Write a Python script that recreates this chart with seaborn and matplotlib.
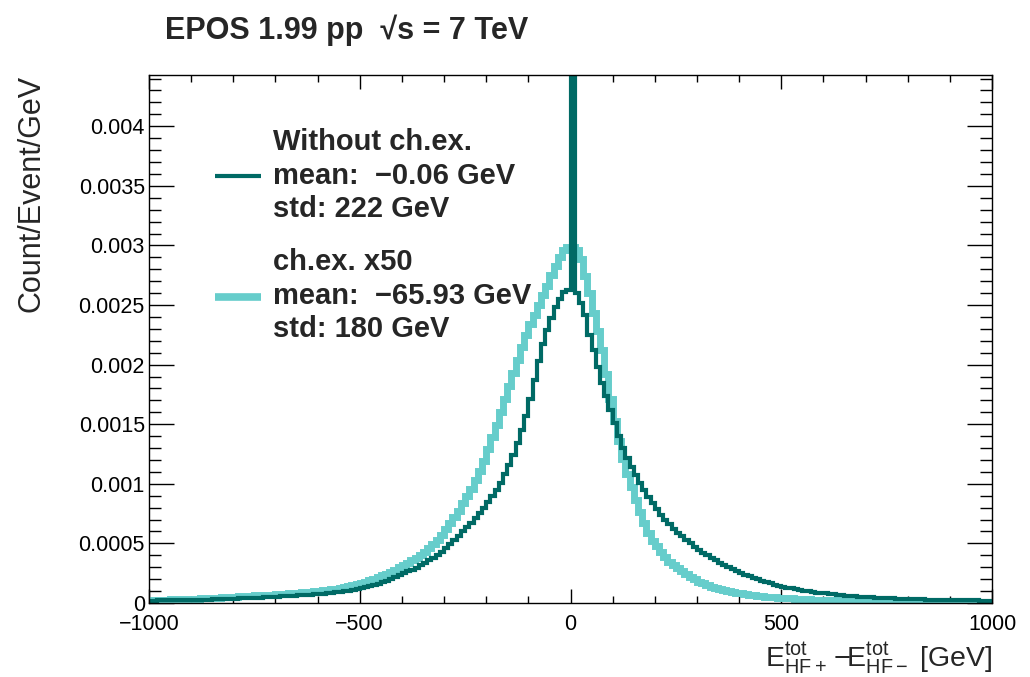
import numpy as np
import pandas as pd
import matplotlib
matplotlib.use("Agg")
import matplotlib.pyplot as plt
from matplotlib.lines import Line2D
from matplotlib.ticker import MultipleLocator, FixedLocator, FixedFormatter
import seaborn as sns

# ---------------- data ----------------
bin_low, bin_high, bin_width = -1000, 1000, 10

without_chex = [
    0.000020, 0.000020, 0.000021, 0.000021, 0.000022, 0.000022, 0.000023, 0.000024, 0.000024, 0.000025,
    0.000026, 0.000027, 0.000028, 0.000029, 0.000029, 0.000030, 0.000031, 0.000032, 0.000033, 0.000035,
    0.000036, 0.000038, 0.000039, 0.000041, 0.000042, 0.000044, 0.000046, 0.000048, 0.000050, 0.000052,
    0.000054, 0.000056, 0.000058, 0.000060, 0.000062, 0.000063, 0.000065, 0.000067, 0.000069, 0.000072,
    0.000075, 0.000078, 0.000081, 0.000085, 0.000089, 0.000094, 0.000099, 0.000104, 0.000110, 0.000117,
    0.000124, 0.000132, 0.000141, 0.000151, 0.000162, 0.000174, 0.000187, 0.000201, 0.000216, 0.000232,
    0.000249, 0.000265, 0.000280, 0.000297, 0.000316, 0.000336, 0.000357, 0.000380, 0.000404, 0.000430,
    0.000465, 0.000495, 0.000527, 0.000560, 0.000605, 0.000640, 0.000675, 0.000715, 0.000755, 0.000800,
    0.000845, 0.000895, 0.000950, 0.001010, 0.001080, 0.001160, 0.001245, 0.001340, 0.001450, 0.001570,
    0.001710, 0.001870, 0.002030, 0.002170, 0.002290, 0.002390, 0.002480, 0.002550, 0.002610, 0.002630,
    0.006000, 0.002600, 0.002520, 0.002420, 0.002250, 0.002120, 0.001980, 0.001850, 0.001740, 0.001620,
    0.001510, 0.001400, 0.001300, 0.001215, 0.001140, 0.001070, 0.001005, 0.000945, 0.000890, 0.000835,
    0.000785, 0.000740, 0.000700, 0.000660, 0.000625, 0.000590, 0.000560, 0.000530, 0.000500, 0.000473,
    0.000447, 0.000423, 0.000400, 0.000378, 0.000357, 0.000338, 0.000320, 0.000303, 0.000285, 0.000268,
    0.000252, 0.000238, 0.000224, 0.000211, 0.000199, 0.000187, 0.000176, 0.000165, 0.000155, 0.000146,
    0.000138, 0.000130, 0.000123, 0.000116, 0.000110, 0.000104, 0.000098, 0.000093, 0.000088, 0.000084,
    0.000080, 0.000076, 0.000072, 0.000068, 0.000065, 0.000062, 0.000059, 0.000056, 0.000054, 0.000051,
    0.000049, 0.000047, 0.000045, 0.000043, 0.000041, 0.000040, 0.000038, 0.000037, 0.000035, 0.000034,
    0.000033, 0.000032, 0.000031, 0.000030, 0.000029, 0.000028, 0.000027, 0.000026, 0.000025, 0.000024,
    0.000024, 0.000023, 0.000023, 0.000022, 0.000022, 0.000021, 0.000021, 0.000020, 0.000020, 0.000019,
]

chex_x50 = [
    0.000025, 0.000026, 0.000027, 0.000028, 0.000029, 0.000030, 0.000031, 0.000032, 0.000033, 0.000034,
    0.000036, 0.000037, 0.000039, 0.000040, 0.000042, 0.000043, 0.000045, 0.000047, 0.000049, 0.000051,
    0.000053, 0.000055, 0.000057, 0.000059, 0.000061, 0.000063, 0.000065, 0.000067, 0.000069, 0.000071,
    0.000073, 0.000076, 0.000078, 0.000081, 0.000083, 0.000086, 0.000089, 0.000092, 0.000095, 0.000099,
    0.000103, 0.000107, 0.000111, 0.000116, 0.000121, 0.000127, 0.000133, 0.000140, 0.000148, 0.000157,
    0.000167, 0.000178, 0.000190, 0.000204, 0.000218, 0.000232, 0.000247, 0.000263, 0.000280, 0.000298,
    0.000317, 0.000337, 0.000358, 0.000381, 0.000405, 0.000432, 0.000461, 0.000494, 0.000530, 0.000570,
    0.000620, 0.000670, 0.000720, 0.000775, 0.000835, 0.000895, 0.000960, 0.001030, 0.001110, 0.001195,
    0.001290, 0.001390, 0.001490, 0.001600, 0.001710, 0.001820, 0.001930, 0.002040, 0.002150, 0.002250,
    0.002340, 0.002420, 0.002500, 0.002580, 0.002660, 0.002750, 0.002830, 0.002900, 0.002960, 0.002990,
    0.002990, 0.002960, 0.002890, 0.002740, 0.002600, 0.002430, 0.002280, 0.002120, 0.001920, 0.001710,
    0.001530, 0.001360, 0.001210, 0.001080, 0.000970, 0.000860, 0.000760, 0.000670, 0.000590, 0.000520,
    0.000475, 0.000425, 0.000385, 0.000348, 0.000315, 0.000290, 0.000265, 0.000240, 0.000218, 0.000198,
    0.000180, 0.000164, 0.000150, 0.000138, 0.000128, 0.000119, 0.000110, 0.000102, 0.000095, 0.000088,
    0.000082, 0.000076, 0.000071, 0.000066, 0.000062, 0.000058, 0.000054, 0.000051, 0.000048, 0.000045,
    0.000042, 0.000040, 0.000038, 0.000036, 0.000034, 0.000032, 0.000030, 0.000028, 0.000027, 0.000025,
    0.000024, 0.000023, 0.000022, 0.000021, 0.000020, 0.000019, 0.000019, 0.000018, 0.000017, 0.000017,
    0.000016, 0.000016, 0.000015, 0.000015, 0.000014, 0.000014, 0.000014, 0.000013, 0.000013, 0.000013,
    0.000012, 0.000012, 0.000012, 0.000012, 0.000011, 0.000011, 0.000011, 0.000011, 0.000011, 0.000010,
    0.000010, 0.000010, 0.000010, 0.000010, 0.000010, 0.000010, 0.000010, 0.000010, 0.000010, 0.000010,
]

series_labels = [
    "Without ch.ex.\nmean:  \u22120.06 GeV\nstd: 222 GeV",
    "ch.ex. x50\nmean:  \u221265.93 GeV\nstd: 180 GeV",
]
title_text = "EPOS 1.99 pp  \u221as = 7 TeV"
y_label = "Count/Event/GeV"
x_label = r"$\mathregular{E^{tot}_{HF+}\,{-}\!E^{tot}_{HF-}}$ [GeV]"
x_ticks = [-1000, -500, 0, 500, 1000]
x_ticklabels = ["\u22121000", "\u2212500", "0", "500", "1000"]
y_ticks = [0, 0.0005, 0.001, 0.0015, 0.002, 0.0025, 0.003, 0.0035, 0.004]
y_ticklabels = ["0", "0.0005", "0.001", "0.0015", "0.002", "0.0025", "0.003", "0.0035", "0.004"]

# ---------------- style ----------------
sns.set_style("ticks")
plt.rcParams["font.family"] = ["Liberation Sans", "DejaVu Sans"]
plt.rcParams["mathtext.fontset"] = "custom"
plt.rcParams["mathtext.rm"] = "Liberation Sans"
plt.rcParams["mathtext.it"] = "Liberation Sans:italic"
plt.rcParams["mathtext.bf"] = "Liberation Sans:bold"

dark = "#006A65"
light = "#66CDCB"

edges = [float(e) for e in np.arange(bin_low, bin_high + bin_width, bin_width)]
centers = [(edges[i] + edges[i + 1]) / 2 for i in range(len(edges) - 1)]
df_dark = pd.DataFrame({"x": centers, "w": without_chex})
df_light = pd.DataFrame({"x": centers, "w": chex_x50})

fig = plt.figure(figsize=(10.30, 6.77), dpi=100)
ax = fig.add_axes([149 / 1030, 1 - 603 / 677, (992 - 149) / 1030, (603 - 75) / 677])

sns.histplot(data=df_light, x="x", weights="w", bins=edges,
             element="step", fill=False, color=light, linewidth=5.0,
             solid_joinstyle="miter", solid_capstyle="butt", ax=ax)
sns.histplot(data=df_dark, x="x", weights="w", bins=edges,
             element="step", fill=False, color=dark, linewidth=3.0,
             solid_joinstyle="miter", solid_capstyle="butt", ax=ax)

ax.set_xlim(-1000, 1000)
ax.set_ylim(0, 0.00443)

ax.xaxis.set_major_locator(FixedLocator(x_ticks))
ax.xaxis.set_major_formatter(FixedFormatter(x_ticklabels))
ax.xaxis.set_minor_locator(MultipleLocator(100))
ax.yaxis.set_major_locator(FixedLocator(y_ticks))
ax.yaxis.set_major_formatter(FixedFormatter(y_ticklabels))
ax.yaxis.set_minor_locator(MultipleLocator(0.0001))

ax.tick_params(axis="both", which="both", direction="in", top=True, right=True,
               colors="black", width=1.0)
ax.tick_params(axis="x", which="major", length=10, labelsize=15.5, pad=8)
ax.tick_params(axis="x", which="minor", length=5)
ax.tick_params(axis="y", which="major", length=18, labelsize=15.5, pad=3)
ax.tick_params(axis="y", which="minor", length=8.5)
for sp in ax.spines.values():
    sp.set_linewidth(1.0)
    sp.set_color("black")

ax.set_xlabel(x_label, fontsize=20.5, loc="right", labelpad=4)
ax.set_ylabel(y_label, fontsize=22)
ax.yaxis.set_label_coords((32 - 149) / 843, 1.0)
ax.yaxis.label.set_rotation_mode("default")
ax.yaxis.label.set_ha("center")
ax.yaxis.label.set_va("top")

fig.text(165 / 1030, 1 - 30 / 677, title_text, fontsize=22, fontweight="bold",
         ha="left", va="center")

handles = [Line2D([0], [0], color=dark, linewidth=3.0, solid_capstyle="butt"),
           Line2D([0], [0], color=light, linewidth=5.5, solid_capstyle="butt")]
leg = ax.legend(handles, series_labels, loc="upper left",
                bbox_to_anchor=(0.078, 0.900), frameon=False,
                prop={"size": 21, "weight": "bold"},
                handlelength=1.6, handletextpad=0.38, labelspacing=0.85,
                borderpad=0, borderaxespad=0)
for t in leg.get_texts():
    t.set_linespacing(1.26)

fig.savefig("out.png", dpi=100)
